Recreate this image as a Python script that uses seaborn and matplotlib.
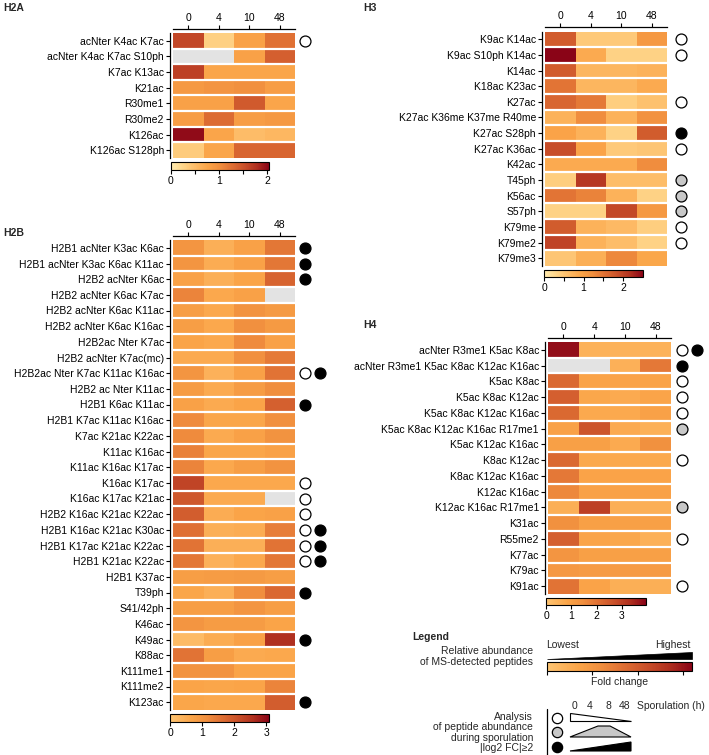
import numpy as np
import pandas as pd
import seaborn as sns
import matplotlib.pyplot as plt
from matplotlib.colors import LinearSegmentedColormap, ListedColormap, Normalize
from matplotlib.cm import ScalarMappable
from matplotlib.patches import Polygon

nan = np.nan
hours = ['0', '4', '10', '48']

# ---- H2A ----
h2a_rows = ['acNter K4ac K7ac', 'acNter K4ac K7ac S10ph', 'K7ac K13ac', 'K21ac',
            'R30me1', 'R30me2', 'K126ac', 'K126ac S128ph']
h2a_vals = [[1.6, 0.3, 0.8, 1.25],
            [nan, nan, 0.8, 1.4],
            [1.65, 0.75, 0.75, 0.75],
            [0.9, 0.95, 1.0, 0.85],
            [0.8, 0.8, 1.45, 0.75],
            [0.85, 1.3, 0.85, 0.9],
            [2.0, 0.75, 0.5, 0.55],
            [0.35, 0.75, 1.35, 1.35]]
h2a_marks = ['w', '', '', '', '', '', '', '']

# ---- H2B ----
h2b_rows = ['H2B1 acNter K3ac K6ac', 'H2B1 acNter K3ac K6ac K11ac', 'H2B2 acNter K6ac',
            'H2B2 acNter K6ac K7ac', 'H2B2 acNter K6ac K11ac', 'H2B2 acNter K6ac K16ac',
            'H2B2ac Nter K7ac', 'H2B2 acNter K7ac(mc)', 'H2B2ac Nter K7ac K11ac K16ac',
            'H2B2 ac Nter K11ac', 'H2B1 K6ac K11ac', 'H2B1 K7ac K11ac K16ac',
            'K7ac K21ac K22ac', 'K11ac K16ac', 'K11ac K16ac K17ac', 'K16ac K17ac',
            'K16ac K17ac K21ac', 'H2B2 K16ac K21ac K22ac', 'H2B1 K16ac K21ac K30ac',
            'H2B1 K17ac K21ac K22ac', 'H2B1 K21ac K22ac', 'H2B1 K37ac', 'T39ph',
            'S41/42ph', 'K46ac', 'K49ac', 'K88ac', 'K111me1', 'K111me2', 'K123ac']
h2b_vals = [[1.0, 0.45, 0.75, 1.5],
            [1.0, 0.5, 0.75, 1.5],
            [0.75, 0.45, 0.7, 1.8],
            [1.3, 0.6, 0.75, nan],
            [0.8, 0.6, 1.05, 0.9],
            [0.8, 0.6, 1.1, 0.9],
            [0.7, 0.6, 1.2, 0.75],
            [0.55, 0.55, 1.1, 1.45],
            [1.0, 0.4, 0.75, 1.55],
            [0.85, 0.55, 0.85, 1.15],
            [0.75, 0.55, 0.7, 1.85],
            [1.2, 0.65, 0.65, 1.1],
            [1.2, 0.55, 0.75, 1.05],
            [1.35, 0.65, 0.65, 0.75],
            [1.3, 0.6, 0.8, 1.05],
            [2.3, 0.6, 0.6, 0.6],
            [2.0, 0.55, 0.55, nan],
            [1.9, 0.5, 0.7, 0.75],
            [1.6, 0.45, 0.5, 1.4],
            [1.55, 0.45, 0.45, 1.55],
            [1.5, 0.4, 0.6, 1.5],
            [0.8, 0.85, 0.9, 0.8],
            [0.65, 0.45, 1.15, 1.75],
            [0.8, 0.8, 1.0, 0.8],
            [1.0, 0.85, 0.85, 0.7],
            [0.2, 0.5, 0.75, 2.6],
            [1.55, 0.8, 0.55, 0.6],
            [1.05, 1.05, 0.7, 0.7],
            [0.7, 0.65, 0.7, 1.3],
            [0.65, 0.6, 0.6, 1.9]]
h2b_marks = ['k', 'k', 'k', '', '', '', '', '', 'wk', '', 'k', '', '', '', '',
             'w', 'w', 'w', 'wk', 'wk', 'wk', '', 'k', '', '', 'k', '', '', '', 'k']

# ---- H3 ----
h3_rows = ['K9ac K14ac', 'K9ac S10ph K14ac', 'K14ac', 'K18ac K23ac', 'K27ac',
           'K27ac K36me K37me R40me', 'K27ac S28ph', 'K27ac K36ac', 'K42ac', 'T45ph',
           'K56ac', 'S57ph', 'K79me', 'K79me2', 'K79me3']
h3_vals = [[1.75, 0.45, 0.45, 1.1],
           [2.5, 0.85, 0.35, 0.35],
           [1.75, 0.7, 0.7, 0.75],
           [1.5, 0.7, 0.7, 0.85],
           [1.65, 1.45, 0.4, 0.55],
           [0.75, 1.25, 0.75, 1.2],
           [0.95, 0.75, 0.35, 1.75],
           [1.9, 0.95, 0.45, 0.5],
           [0.85, 0.85, 0.85, 1.25],
           [0.4, 2.1, 0.6, 0.6],
           [1.5, 1.35, 0.75, 0.35],
           [0.35, 0.35, 1.95, 1.1],
           [1.75, 0.75, 0.65, 0.4],
           [2.0, 0.75, 0.6, 0.35],
           [0.5, 0.8, 1.3, 0.9]]
h3_marks = ['w', 'w', '', '', 'w', '', 'k', 'w', '', 'g', 'g', 'g', 'w', 'w', '']

# ---- H4 ----
h4_rows = ['acNter R3me1 K5ac K8ac', 'acNter R3me1 K5ac K8ac K12ac K16ac', 'K5ac K8ac',
           'K5ac K8ac K12ac', 'K5ac K8ac K12ac K16ac', 'K5ac K8ac K12ac K16ac R17me1',
           'K5ac K12ac K16ac', 'K8ac K12ac', 'K8ac K12ac K16ac', 'K12ac K16ac',
           'K12ac K16ac R17me1', 'K31ac', 'R55me2', 'K77ac', 'K79ac', 'K91ac']
h4_vals = [[3.8, 0.5, 0.5, 0.5],
           [nan, nan, 0.55, 1.9],
           [2.2, 0.9, 0.9, 0.9],
           [2.4, 0.8, 0.7, 0.85],
           [2.2, 0.75, 0.75, 0.95],
           [0.95, 2.6, 0.7, 0.55],
           [1.0, 1.0, 0.7, 1.4],
           [2.2, 0.75, 0.75, 0.75],
           [1.9, 0.9, 0.9, 0.9],
           [1.6, 0.95, 0.95, 0.95],
           [0.6, 3.0, 0.6, 0.6],
           [1.4, 1.0, 1.0, 1.0],
           [2.4, 0.85, 0.8, 0.55],
           [1.3, 1.0, 1.0, 1.0],
           [1.2, 1.1, 1.1, 1.1],
           [2.0, 0.9, 0.6, 0.6]]
h4_marks = ['wk', 'k', 'w', 'w', 'w', 'g', '', 'w', '', '', 'g', '', 'w', '', '', 'w']

sns.set_theme(style='white')
plt.rcParams['font.family'] = ['Liberation Sans', 'DejaVu Sans']
plt.rcParams['font.size'] = 7.5

W, H = 709, 755
fig = plt.figure(figsize=(W / 100, H / 100), dpi=100)


def px(x0, y0, x1, y1):
    return [x0 / W, 1 - y1 / H, (x1 - x0) / W, (y1 - y0) / H]


full_cmap = LinearSegmentedColormap.from_list(
    'fc', ['#FFEBB0', '#FED488', '#FDBB66', '#FAA448', '#F08E3E',
           '#DE6E33', '#C9502A', '#B0301F', '#8A0417'])
trunc_cmap = ListedColormap(full_cmap(np.linspace(0.2, 1, 256)))
mark_colors = {'w': 'white', 'g': '#c8c8c8', 'k': 'black'}


def draw_panel(rows, vals, marks, box, cbox, vmax, cmap, cticks, clabels, mark_x):
    df = pd.DataFrame(vals, index=rows, columns=hours)
    ax = fig.add_axes(px(*box))
    cax = fig.add_axes(px(*cbox))
    sns.heatmap(df, ax=ax, cmap=cmap, vmin=0, vmax=vmax, cbar_ax=cax,
                xticklabels=True, yticklabels=True,
                cbar_kws={'orientation': 'horizontal'})
    ax.set_facecolor('#e3e3e3')
    ax.hlines(np.arange(1, len(rows)), 0, 4, color='white', lw=1.6)
    ax.xaxis.tick_top()
    plt.setp(ax.get_yticklabels(), rotation=0)
    plt.setp(ax.get_xticklabels(), rotation=0)
    ax.set_xlabel('')
    ax.set_ylabel('')
    for s in ['top', 'left']:
        ax.spines[s].set_visible(True)
        ax.spines[s].set_color('black')
        ax.spines[s].set_linewidth(0.9)
    ax.spines['top'].set_position(('outward', 3))
    ax.spines['left'].set_position(('outward', 2))
    ax.tick_params(axis='both', length=3, width=0.8, pad=1.5, colors='black',
                   labelsize=7.5, left=True, top=True)
    for i, m in enumerate(marks):
        for j, c in enumerate(m):
            ax.scatter(mark_x + j * 0.5, i + 0.5, s=62, facecolor=mark_colors[c],
                       edgecolor='black', linewidth=0.9, clip_on=False, zorder=5)
    cb = ax.collections[0].colorbar
    cb.outline.set_edgecolor('black')
    cb.outline.set_linewidth(0.8)
    cb.set_ticks(cticks)
    cb.set_ticklabels(clabels)
    cax.tick_params(length=3, width=0.8, pad=1, labelsize=7.5, colors='black')
    return ax


draw_panel(h2a_rows, h2a_vals, h2a_marks, (173, 33, 295, 158), (171, 162, 269, 170),
           2.04, full_cmap, [0, 0.5, 1, 1.5, 2], ['0', '', '1', '', '2'], 4.33)
draw_panel(h2b_rows, h2b_vals, h2b_marks, (173, 240, 295, 710), (170, 714, 269, 722),
           3.09, trunc_cmap, [0, 1, 2, 3], ['0', '1', '2', '3'], 4.33)
draw_panel(h3_rows, h3_vals, h3_marks, (545, 31.5, 667, 266), (544, 270, 643, 277),
           2.5, full_cmap, [0, 0.5, 1, 1.5, 2], ['0', '', '1', '', '2'], 4.46)
draw_panel(h4_rows, h4_vals, h4_marks, (548, 342, 671, 594), (546, 598, 646, 605),
           3.95, trunc_cmap, [0, 1, 2, 3], ['0', '1', '2', '3'], 4.36)

for lab, x, y in [('H2A', 3, 8), ('H2B', 3, 233), ('H3', 363, 8), ('H4', 363, 325)]:
    fig.text(x / W, 1 - y / H, lab, fontsize=7.5, fontweight='bold', va='center')

# ---- legend ----
ov = fig.add_axes([0, 0, 1, 1])
ov.set_xlim(0, W)
ov.set_ylim(H, 0)
ov.axis('off')
ov.patch.set_alpha(0)

ov.text(412, 637, 'Legend', fontsize=7.5, fontweight='bold', va='center')
ov.text(533, 651, 'Relative abundance', ha='right', va='center', fontsize=7.5)
ov.text(533, 662, 'of MS-detected peptides', ha='right', va='center', fontsize=7.5)
ov.text(546, 645, 'Lowest', ha='left', va='center', fontsize=7.5)
ov.text(691, 645, 'Highest', ha='right', va='center', fontsize=7.5)
ov.add_patch(Polygon([(547, 659), (692, 659), (692, 652)], closed=True,
                     facecolor='black', edgecolor='black', lw=0.5))
lcax = fig.add_axes(px(547, 662, 692, 671))
lcb = fig.colorbar(ScalarMappable(norm=Normalize(0, 3.2), cmap=trunc_cmap), cax=lcax,
                   orientation='horizontal', ticks=[0, 1, 2, 3])
lcb.outline.set_edgecolor('black')
lcb.outline.set_linewidth(0.8)
lcax.set_xticklabels([])
lcax.tick_params(length=3, width=0.8, colors='black')
ov.text(620, 682, 'Fold change', ha='center', va='center', fontsize=7.5)

for t, x in [('0', 574), ('4', 590), ('8', 608), ('48', 625)]:
    ov.text(x, 706, t, ha='center', va='center', fontsize=7.5)
ov.text(637, 706, 'Sporulation (h)', ha='left', va='center', fontsize=7.5)
ov.plot([547, 547], [709, 755], color='black', lw=0.9)
for c, y in [('w', 718), ('g', 732), ('k', 747)]:
    ov.scatter(557, y, s=55, facecolor=mark_colors[c], edgecolor='black', linewidth=0.9)
ov.add_patch(Polygon([(570, 713), (570, 721), (631, 721)], closed=True,
                     facecolor='white', edgecolor='black', lw=0.8))
ov.add_patch(Polygon([(570, 737), (598, 726), (610, 726), (631, 737)], closed=True,
                     facecolor='#c8c8c8', edgecolor='black', lw=0.8))
ov.add_patch(Polygon([(570, 751), (631, 742), (631, 751)], closed=True,
                     facecolor='black', edgecolor='black', lw=0.8))
for t, y in [('Analysis', 717), ('of peptide abundance', 727),
             ('during sporulation', 738), ('|log2 FC|≥2', 748)]:
    ov.text(533, y, t, ha='right', va='center', fontsize=7.5)

fig.savefig('out.png', dpi=100)
